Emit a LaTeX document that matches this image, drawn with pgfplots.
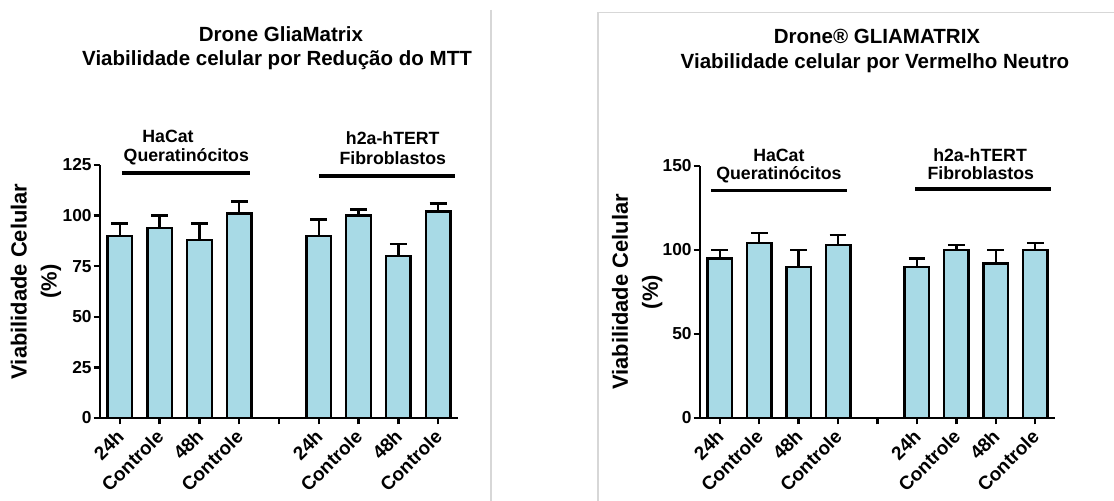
\documentclass[border=0pt]{standalone}
\usepackage{fontspec}
\setmainfont{Liberation Sans}
\usepackage{pgfplots}
\pgfplotsset{compat=1.18}
\definecolor{barblue}{RGB}{168,218,230}
\definecolor{panelgray}{RGB}{215,215,215}

\pgfplotstableread{
x y e
0 90 6
1 94 6
2 88 8
3 101 6
5 90 8
6 100 3
7 80 6
8 102 4
}\mttdata

\pgfplotstableread{
x y e
0 95 5
1 104 6
2 90 10
3 103 6
5 90 5
6 100 3
7 92 8
8 100 4
}\nrdata

\tikzset{grouplabel/.style={font=\bfseries\fontsize{8.9}{10}\selectfont}}

\pgfplotsset{
  prismstyle/.style={
    scale only axis,
    axis x line*=bottom,
    axis y line*=left,
    axis line style={line width=1.35bp},
    xmin=-0.5, xmax=8.5,
    ymin=0,
    xtick={0,...,8},
    xticklabels={24h,Controle,48h,Controle,,24h,Controle,48h,Controle},
    tick align=outside,
    major tick length=3.2bp,
    tick style={line width=1.2bp, black},
    /pgf/number format/assume math mode=true,
    yticklabel style={font=\bfseries\fontsize{8.7}{10}\selectfont, inner xsep=0.8bp},
    xticklabel style={font=\bfseries\fontsize{9.5}{11}\selectfont, yshift=-3.5bp, xshift=1bp, rotate=45, anchor=east, inner sep=1bp},
    ylabel style={font=\bfseries\fontsize{11}{15}\selectfont, align=center},
    clip=false,
    ybar, bar width=12.3bp,
  },
  barstyle/.style={fill=barblue, draw=black, line width=1.2bp,
    error bars/.cd, y dir=plus, y explicit,
    error bar style={line width=1.2bp, black},
    error mark options={rotate=90, mark size=4.2bp, line width=1.2bp, black}},
}

\begin{document}
\begin{tikzpicture}
\useasboundingbox (0,0) rectangle (557bp,250.5bp);
% panel borders (screenshot frame)
\draw[panelgray, line width=0.6bp] (245.5bp,245.5bp) -- (245.5bp,0);
\draw[panelgray, line width=0.6bp] (557bp,244.35bp) -- (299bp,244.35bp) -- (299bp,0);

% titles
\node[font=\bfseries\fontsize{10.3}{12}\selectfont] at (140.5bp,233.35bp) {Drone GliaMatrix};
\node[font=\bfseries\fontsize{10.3}{12}\selectfont] at (138.5bp,220.5bp) {Viabilidade celular por Redução do MTT};
\node[font=\bfseries\fontsize{10.3}{12}\selectfont] at (438.5bp,232.15bp) {Drone® GLIAMATRIX};
\node[font=\bfseries\fontsize{10.3}{12}\selectfont] at (437.5bp,218.85bp) {Viabilidade celular por Vermelho Neutro};

% left axis
\begin{axis}[prismstyle,
  at={(50bp,41.5bp)}, anchor=south west,
  width=179bp, height=126.5bp,
  ymax=125, ytick={0,25,50,75,100,125},
  ylabel={Viabilidade Celular\\(\%)},
  ylabel style={at={(axis description cs:-0.179,0.54)}, anchor=center},
]
\addplot[barstyle] table[x=x, y=y, y error=e] {\mttdata};
\draw[line width=1.8bp] (axis cs:0.05,121) -- (axis cs:3.28,121);
\draw[line width=1.8bp] (axis cs:5.0,119.6) -- (axis cs:8.42,119.6);
\node[grouplabel] at (axis cs:1.21,139) {HaCat};
\node[grouplabel] at (axis cs:1.67,129) {Queratinócitos};
\node[grouplabel] at (axis cs:6.86,138.5) {h2a-hTERT};
\node[grouplabel] at (axis cs:6.86,128.5) {Fibroblastos};
\end{axis}

% right axis
\begin{axis}[prismstyle,
  at={(350bp,41.5bp)}, anchor=south west,
  width=177.5bp, height=126bp,
  ymax=150, ytick={0,50,100,150},
  ylabel={Viabilidade Celular\\(\%)},
  ylabel style={at={(axis description cs:-0.177,0.5)}, anchor=center},
]
\addplot[barstyle] table[x=x, y=y, y error=e] {\nrdata};
\draw[line width=1.8bp] (axis cs:-0.22,135.3) -- (axis cs:3.23,135.3);
\draw[line width=1.8bp] (axis cs:4.96,136.3) -- (axis cs:8.39,136.3);
\node[grouplabel] at (axis cs:1.5,156.5) {HaCat};
\node[grouplabel] at (axis cs:1.5,145) {Queratinócitos};
\node[grouplabel] at (axis cs:6.6,156.5) {h2a-hTERT};
\node[grouplabel] at (axis cs:6.62,145.6) {Fibroblastos};
\end{axis}
\end{tikzpicture}
\end{document}
